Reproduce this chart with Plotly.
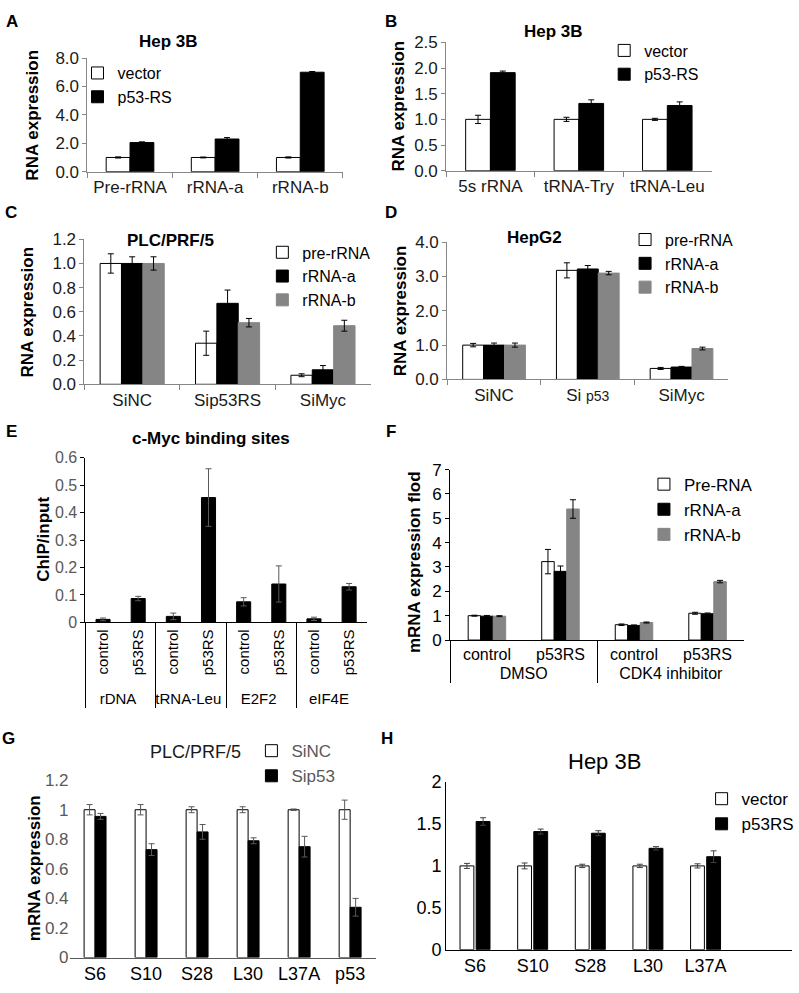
import plotly.graph_objects as go

W, H = 799, 993
FONT = "Arial, 'Liberation Sans', sans-serif"

# ---------------- data ----------------
A_cats = ["Pre-rRNA", "rRNA-a", "rRNA-b"]
A_vector = [1.0, 1.0, 1.0]
A_vector_err = [0.04, 0.03, 0.04]
A_p53 = [2.05, 2.3, 7.0]
A_p53_err = [0.05, 0.1, 0.05]

B_cats = ["5s rRNA", "tRNA-Try", "tRNA-Leu"]
B_vector = [1.0, 1.0, 1.0]
B_vector_err = [0.08, 0.04, 0.02]
B_p53 = [1.91, 1.31, 1.27]
B_p53_err = [0.03, 0.07, 0.07]

C_cats = ["SiNC", "Sip53RS", "SiMyc"]
C_pre = [1.0, 0.34, 0.075]
C_pre_err = [0.08, 0.1, 0.012]
C_a = [1.0, 0.67, 0.12]
C_a_err = [0.055, 0.11, 0.035]
C_b = [1.0, 0.51, 0.485]
C_b_err = [0.055, 0.035, 0.045]

D_cats = ["SiNC", "Si p53", "SiMyc"]
D_ticktext = ["SiNC", "Si <span style='font-size:14px'>p53</span>", "SiMyc"]
D_pre = [1.0, 3.18, 0.32]
D_pre_err = [0.05, 0.22, 0.03]
D_a = [1.0, 3.22, 0.36]
D_a_err = [0.06, 0.1, 0.02]
D_b = [1.0, 3.1, 0.9]
D_b_err = [0.06, 0.05, 0.04]

E_sites = ["rDNA", "rDNA", "tRNA-Leu", "tRNA-Leu", "E2F2", "E2F2", "eIF4E", "eIF4E"]
E_conds = ["control", "p53RS", "control", "p53RS", "control", "p53RS", "control", "p53RS"]
E_vals = [0.011, 0.087, 0.022, 0.455, 0.075, 0.14, 0.013, 0.13]
E_err = [0.005, 0.008, 0.012, 0.105, 0.015, 0.066, 0.006, 0.012]

F_treat = ["DMSO", "DMSO", "CDK4 inhibitor", "CDK4 inhibitor"]
F_conds = ["control", "p53RS", "control", "p53RS"]
F_pre = [1.0, 3.22, 0.63, 1.1]
F_pre_err = [0.02, 0.5, 0.03, 0.04]
F_a = [0.98, 2.82, 0.6, 1.08]
F_a_err = [0.03, 0.22, 0.02, 0.03]
F_b = [0.98, 5.38, 0.72, 2.4]
F_b_err = [0.02, 0.38, 0.02, 0.05]

G_genes = ["S6", "S10", "S28", "L30", "L37A", "p53"]
G_sinc = [1.0, 1.0, 1.0, 1.0, 1.0, 1.0]
G_sinc_err = [0.035, 0.035, 0.02, 0.02, 0.005, 0.065]
G_sip53 = [0.955, 0.73, 0.85, 0.79, 0.75, 0.34]
G_sip53_err = [0.02, 0.04, 0.05, 0.02, 0.07, 0.06]

H_genes = ["S6", "S10", "S28", "L30", "L37A"]
H_vector = [1.0, 1.0, 1.0, 1.0, 1.0]
H_vector_err = [0.03, 0.035, 0.02, 0.02, 0.025]
H_p53 = [1.53, 1.41, 1.39, 1.21, 1.11]
H_p53_err = [0.045, 0.03, 0.03, 0.02, 0.07]

# ---------------- helpers ----------------
def dx(l, r):
    return [l / W, r / W]

def dy(top, bottom):
    return [1 - bottom / H, 1 - top / H]

WHITE = "white"
BLACK = "black"
GRAY = "#858585"

fig = go.Figure()

def bar(x, y, err, n, color, name, w, off, legend, line_color=BLACK, err_color=BLACK, show=True):
    fig.add_trace(go.Bar(
        x=x, y=y, name=name,
        xaxis="x" if n == 1 else f"x{n}", yaxis="y" if n == 1 else f"y{n}",
        width=w, offset=off,
        marker=dict(color=color, line=dict(color=line_color, width=1)),
        error_y=dict(type="data", array=err, color=err_color, thickness=1, width=3),
        legend=legend, showlegend=show,
    ))

# A
bar(A_cats, A_vector, A_vector_err, 1, WHITE, "vector", 0.28, -0.28, "legend")
bar(A_cats, A_p53, A_p53_err, 1, BLACK, "p53-RS", 0.28, 0.0, "legend")
# B
bar(B_cats, B_vector, B_vector_err, 2, WHITE, "vector", 0.28, -0.28, "legend2")
bar(B_cats, B_p53, B_p53_err, 2, BLACK, "p53-RS", 0.28, 0.0, "legend2")
# C
wc = 0.224
bar(C_cats, C_pre, C_pre_err, 3, WHITE, "pre-rRNA", wc, -1.5 * wc, "legend3")
bar(C_cats, C_a, C_a_err, 3, BLACK, "rRNA-a", wc, -0.5 * wc, "legend3")
bar(C_cats, C_b, C_b_err, 3, GRAY, "rRNA-b", wc, 0.5 * wc, "legend3", line_color=GRAY)
# D
wd = 0.223
bar(D_cats, D_pre, D_pre_err, 4, WHITE, "pre-rRNA", wd, -1.5 * wd, "legend4")
bar(D_cats, D_a, D_a_err, 4, BLACK, "rRNA-a", wd, -0.5 * wd, "legend4")
bar(D_cats, D_b, D_b_err, 4, GRAY, "rRNA-b", wd, 0.5 * wd, "legend4", line_color=GRAY)
# E
bar([E_sites, E_conds], E_vals, E_err, 5, BLACK, "ChIP", 0.4, -0.2, "legend",
    err_color="#595959", show=False)
# F
wf = 0.17
bar([F_treat, F_conds], F_pre, F_pre_err, 6, WHITE, "Pre-RNA", wf, -1.5 * wf, "legend6")
bar([F_treat, F_conds], F_a, F_a_err, 6, BLACK, "rRNA-a", wf, -0.5 * wf, "legend6")
bar([F_treat, F_conds], F_b, F_b_err, 6, GRAY, "rRNA-b", wf, 0.5 * wf, "legend6", line_color=GRAY)
# G
wg = 0.215
bar(G_genes, G_sinc, G_sinc_err, 7, WHITE, "SiNC", wg, -wg, "legend7", err_color="#595959")
bar(G_genes, G_sip53, G_sip53_err, 7, BLACK, "Sip53", wg, 0.0, "legend7", err_color="#595959")
# H
wh = 0.24
bar(H_genes, H_vector, H_vector_err, 8, WHITE, "vector", wh, -wh - 0.02, "legend8", err_color="#404040")
bar(H_genes, H_p53, H_p53_err, 8, BLACK, "p53RS", wh, 0.02, "legend8", err_color="#404040")

# ---------------- axes ----------------
AX_GRAY = "#868686"

def xax(dom, anchor, rng, size=17, color="#1a1a1a", linecolor=AX_GRAY, boundaries=True, **kw):
    d = dict(domain=dom, anchor=anchor, range=rng, showgrid=False, zeroline=False,
             showline=True, linecolor=linecolor, linewidth=1,
             tickfont=dict(size=size, color=color, family=FONT), fixedrange=True)
    if boundaries:
        d.update(ticks="outside", tickson="boundaries", ticklen=5, tickcolor=linecolor)
    else:
        d.update(ticks="")
    d.update(kw)
    return d

def yax(dom, anchor, rng, dtick, size=17, color="#1a1a1a", linecolor=AX_GRAY, showline=True, fmt=None, **kw):
    d = dict(domain=dom, anchor=anchor, range=rng, dtick=dtick, tick0=0, showgrid=False,
             zeroline=False, showline=showline, linecolor=linecolor, linewidth=1,
             ticks="outside" if showline else "", ticklen=4, tickcolor=linecolor,
             tickfont=dict(size=size, color=color, family=FONT), fixedrange=True)
    if fmt:
        d["tickformat"] = fmt
    d.update(kw)
    return d

layout = dict(
    width=W, height=H, autosize=False, showlegend=True,
    margin=dict(l=0, r=0, t=0, b=0),
    paper_bgcolor="white", plot_bgcolor="rgba(0,0,0,0)",
    barmode="overlay",
    font=dict(family=FONT, color="black"),
    xaxis=xax(dx(88, 345), "y", [-0.5, 2.5]),
    yaxis=yax(dy(49, 165), "x", [0, 8], 2, fmt=".1f"),
    xaxis2=xax(dx(449, 716), "y2", [-0.5, 2.5]),
    yaxis2=yax(dy(33, 164), "x2", [0, 2.5], 0.5, fmt=".1f"),
    xaxis3=xax(dx(85, 373), "y3", [-0.5, 2.5]),
    yaxis3=yax(dy(234, 382), "x3", [0, 1.2], 0.2, fmt=".1f"),
    xaxis4=xax(dx(450, 733), "y4", [-0.5, 2.5], tickmode="array", tickvals=D_cats, ticktext=D_ticktext),
    yaxis4=yax(dy(237, 377), "x4", [0, 4], 1, fmt=".1f"),
    xaxis5=xax(dx(86, 369), "y5", [-0.5, 7.5], size=15, color="black", linecolor="black",
               boundaries=False, type="multicategory", tickangle=-90,
               showdividers=True, dividercolor="black", dividerwidth=1),
    yaxis5=yax(dy(457, 625), "x5", [0, 0.6], 0.1, size=16, color="#595959", linecolor="black"),
    xaxis6=xax(dx(453, 749), "y6", [-0.5, 3.5], size=16, color="black", linecolor="black",
               boundaries=False, type="multicategory",
               showdividers=True, dividercolor="black", dividerwidth=1),
    yaxis6=yax(dy(469, 643), "x6", [0, 7], 1, size=17, color="black", linecolor="black"),
    xaxis7=xax(dx(70, 378), "y7", [-0.5, 5.5], size=18, color="black", linecolor="#595959",
               boundaries=False),
    yaxis7=yax(dy(786, 967), "x7", [0, 1.2], 0.2, size=17, color="#595959", showline=False),
    xaxis8=xax(dx(449, 797), "y8", [-0.5, 5.5], size=18, color="black", linecolor="black",
               boundaries=False),
    yaxis8=yax(dy(788, 959), "x8", [0, 2], 0.5, size=18, color="black", linecolor="black",
               ticks=""),
)

def leg(left, top, size, color="black"):
    return dict(x=left / W, y=1 - top / H, xanchor="left", yanchor="top",
                bgcolor="rgba(0,0,0,0)", borderwidth=0, itemwidth=30, tracegroupgap=0,
                font=dict(size=size, color=color, family=FONT), traceorder="normal")

layout["legend"] = leg(78, 47, 16)
layout["legend2"] = leg(608, 24, 16)
layout["legend3"] = leg(264, 230, 16)
layout["legend4"] = leg(629, 217, 16)
layout["legend6"] = leg(648, 466, 17)
layout["legend7"] = leg(253, 738, 17, color="#595959")
layout["legend8"] = leg(706, 787, 17)

fig.update_layout(**layout)

# ---------------- texts ----------------
def note(text, px, py, size=17, bold=False, angle=0, color="black"):
    fig.add_annotation(text=f"<b>{text}</b>" if bold else text,
                       x=px / W, y=1 - py / H, xref="paper", yref="paper",
                       xanchor="center", yanchor="middle", showarrow=False, textangle=angle,
                       font=dict(size=size, color=color, family=FONT))

# panel letters
for letter, px, py in [("A", 12, 12), ("B", 393, 12), ("C", 11, 207), ("D", 393, 207),
                       ("E", 12, 430), ("F", 393, 430), ("G", 9, 743), ("H", 389, 743)]:
    note(letter, px, py, size=17, bold=True)

# titles
note("Hep 3B", 170, 32, 17, bold=True)
note("Hep 3B", 557, 22, 17, bold=True)
note("PLC/PRF/5", 172, 235, 17, bold=True)
note("HepG2", 538, 232, 17, bold=True)
note("c-Myc binding sites", 212, 437, 17, bold=True)
note("PLC/PRF/5", 197, 757, 18, color="#1a1a1a")
note("Hep 3B", 608, 767, 22)

# y axis titles
note("RNA expression", 33, 107, 17, bold=True, angle=-90)
note("RNA expression", 401, 98, 17, bold=True, angle=-90)
note("RNA expression", 28, 308, 17, bold=True, angle=-90)
note("RNA expression", 403, 307, 17, bold=True, angle=-90)
note("ChIP/input", 43, 540, 17, bold=True, angle=-90)
note("mRNA expression flod", 417, 563, 17, bold=True, angle=-90)
note("mRNA expression", 35, 876, 17, bold=True, angle=-90)

fig.write_html("out.html", config={"displayModeBar": False},
               post_script="document.body.style.margin='0px';")
